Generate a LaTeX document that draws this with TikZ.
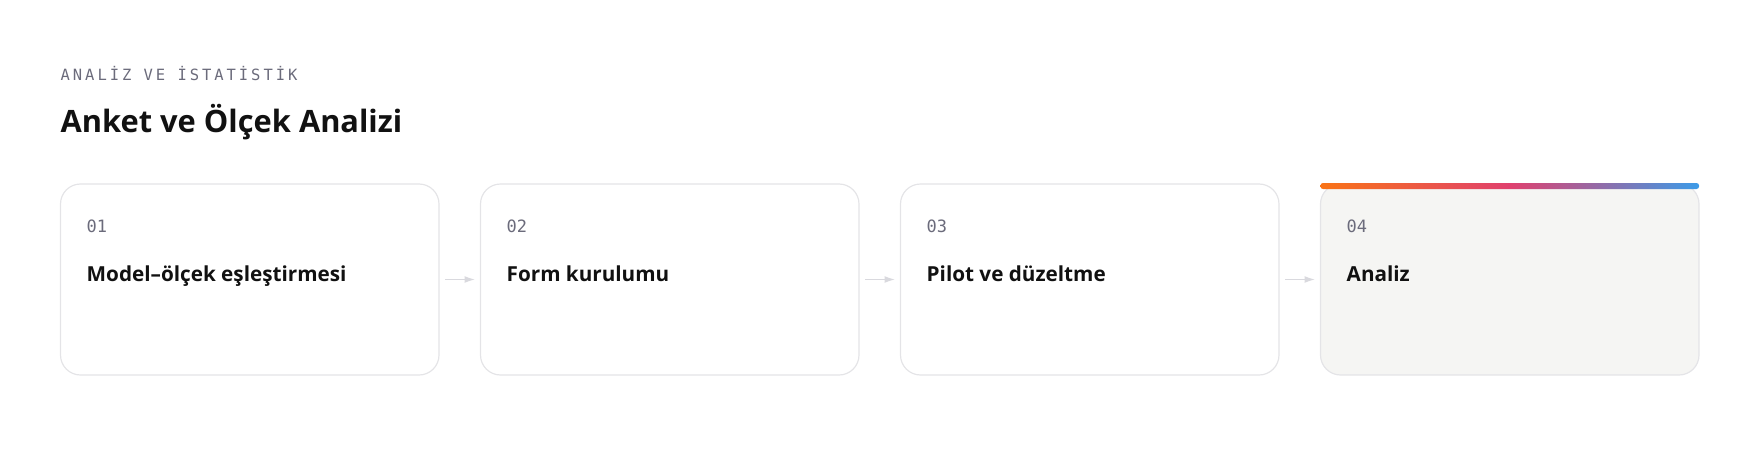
\documentclass[tikz,border=0pt]{standalone}
\usepackage{fontspec}
\setmainfont{Open Sans}
\newfontfamily\monofont{DejaVu Sans Mono}
\usetikzlibrary{positioning, arrows.meta}
\definecolor{edge}{HTML}{E4E4E7}
\definecolor{pale}{HTML}{F5F5F3}
\definecolor{numgray}{HTML}{6B6B7B}
\definecolor{ink}{HTML}{111111}
\definecolor{flowgray}{HTML}{D9D9DE}
\definecolor{barorange}{HTML}{F97316}
\definecolor{barpink}{HTML}{E0406E}
\definecolor{barblue}{HTML}{3B9BE8}
\tikzstyle{stepcard} = [draw = edge, line width = 1.2, rounded corners = 20pt, minimum width = 378.5pt, minimum height = 191pt, inner sep = 0pt, outer sep = 0pt]
\tikzstyle{stepnum} = [inner sep = 0pt, anchor = base west, color = numgray, font = \monofont\fontsize{17}{20}\selectfont]
\tikzstyle{steptitle} = [inner sep = 0pt, anchor = base west, color = ink, font = \bfseries\fontsize{20.7}{24}\selectfont]
\tikzstyle{flow} = [line width = 1.8, color = flowgray, -{Latex[length=11pt,width=7pt]}]

\begin{document}
\begin{tikzpicture}[x=1pt, y=-1pt]

		\useasboundingbox (0,0) rectangle (1760,452);

		% Heading
		\node[inner sep=0pt, anchor=base west, color=numgray, font=\monofont\fontsize{15.5}{18}\selectfont\addfontfeatures{LetterSpace=19}] (kicker) at (60.5,80) {ANALİZ VE İSTATİSTİK};
		\node[inner sep=0pt, anchor=base west, color=ink, font=\bfseries\fontsize{30.8}{36}\selectfont] (title) at (60.5,132) {Anket ve Ölçek Analizi};

		% Cards
		\node[stepcard, anchor=north west] (b1) at (60.5,184) {};
		\node[stepcard, right=41.5pt of b1] (b2) {};
		\node[stepcard, right=41.5pt of b2] (b3) {};
		\node[stepcard, right=41.5pt of b3, fill=pale] (b4) {};

		% Gradient bar
		\shade[left color=barorange, right color=barblue, middle color=barpink, rounded corners=2.5pt] ([yshift=1pt]b4.north west) rectangle ([yshift=-5pt]b4.north east);

		% Texts
		\node[stepnum] (n1) at ([xshift=26pt,yshift=-48pt]b1.north west) {01};
		\node[stepnum] (n2) at ([xshift=26pt,yshift=-48pt]b2.north west) {02};
		\node[stepnum] (n3) at ([xshift=26pt,yshift=-48pt]b3.north west) {03};
		\node[stepnum] (n4) at ([xshift=26pt,yshift=-48pt]b4.north west) {04};
		\node[steptitle] (t1) at ([xshift=26pt,yshift=-97pt]b1.north west) {Model–ölçek eşleştirmesi};
		\node[steptitle] (t2) at ([xshift=26pt,yshift=-97pt]b2.north west) {Form kurulumu};
		\node[steptitle] (t3) at ([xshift=26pt,yshift=-97pt]b3.north west) {Pilot ve düzeltme};
		\node[steptitle] (t4) at ([xshift=26pt,yshift=-97pt]b4.north west) {Analiz};

		% Arrows
		\draw[flow] ([xshift=6pt]b1.east) -- ([xshift=-5pt]b2.west);
		\draw[flow] ([xshift=6pt]b2.east) -- ([xshift=-5pt]b3.west);
		\draw[flow] ([xshift=6pt]b3.east) -- ([xshift=-5pt]b4.west);
	\end{tikzpicture}
\end{document}
